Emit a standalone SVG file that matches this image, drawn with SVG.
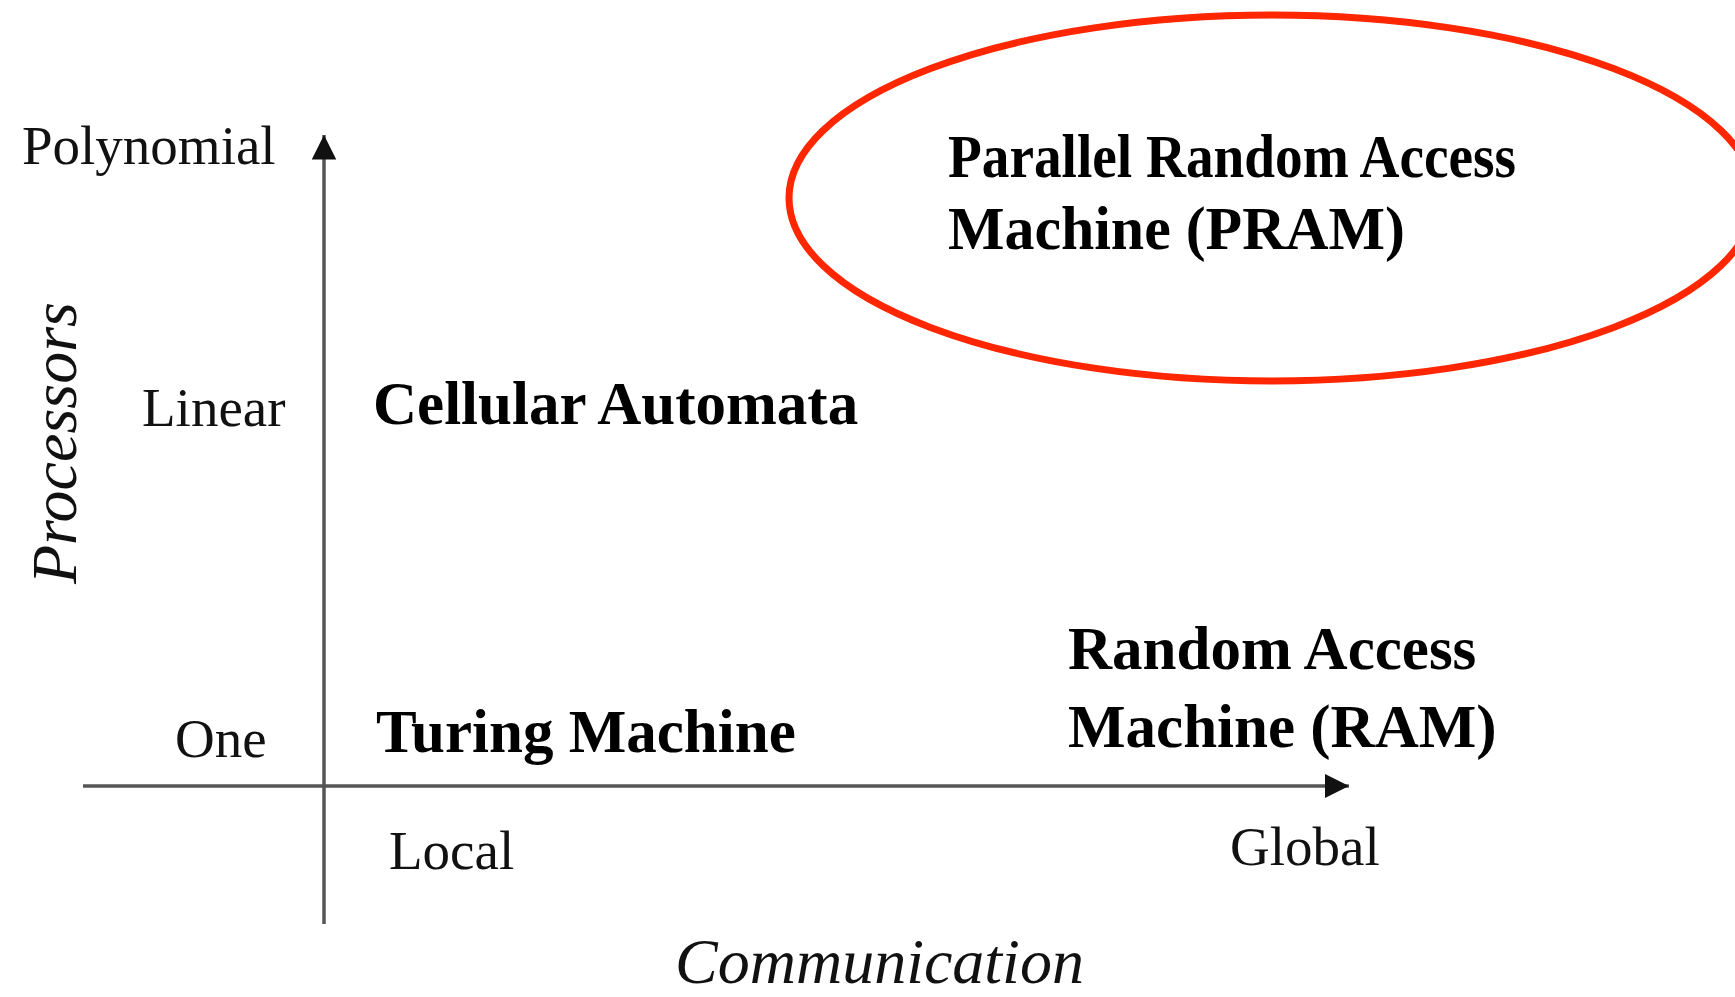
<svg xmlns="http://www.w3.org/2000/svg" width="1735" height="997" viewBox="0 0 1735 997">
  <style>
    .tick { font-family: "Liberation Serif", "Times New Roman", serif; font-size: 55px; fill: #111; }
    .axis-title { font-family: "Liberation Serif", "Times New Roman", serif; font-size: 64px; font-style: italic; fill: #111; }
    .model { font-family: "Liberation Serif", "Times New Roman", serif; font-size: 61px; font-weight: bold; fill: #000; }
    .axis { stroke: #555; stroke-width: 3.5; fill: none; }
  </style>
  <defs>
    <marker id="arrow" viewBox="0 0 10 10" refX="10" refY="5" markerWidth="7" markerHeight="7" markerUnits="strokeWidth" orient="auto">
      <path d="M0,0 L10,5 L0,10 z" fill="#111"/>
    </marker>
  </defs>

  <rect width="1735" height="997" fill="#fff"/>

  <!-- axes -->
  <g id="connectors">
    <line class="axis" x1="324" y1="924" x2="324" y2="135" marker-end="url(#arrow)"/>
    <line class="axis" x1="83" y1="786" x2="1349" y2="786" marker-end="url(#arrow)"/>
  </g>

  <!-- axis titles and tick labels -->
  <g id="labels">
    <text class="tick" x="22" y="164">Polynomial</text>
    <text class="tick" x="142" y="426">Linear</text>
    <text class="tick" x="175" y="757">One</text>
    <text class="tick" x="389" y="869">Local</text>
    <text class="tick" x="1230" y="865">Global</text>
    <text class="axis-title" transform="translate(76,443) rotate(-90)" text-anchor="middle">Processors</text>
    <text class="axis-title" x="675" y="983">Communication</text>
  </g>

  <g id="node-ca">
    <text class="model" x="373" y="424">Cellular Automata</text>
  </g>

  <g id="node-tm">
    <text class="model" x="376" y="752">Turing Machine</text>
  </g>

  <g id="node-ram">
    <text class="model" x="1068" y="669">Random Access</text>
    <text class="model" x="1068" y="747">Machine (RAM)</text>
  </g>

  <g id="node-pram">
    <ellipse cx="1272" cy="198" rx="483" ry="183" fill="none" stroke="#ff2600" stroke-width="7"/>
    <text class="model" x="948" y="177" textLength="568" lengthAdjust="spacingAndGlyphs">Parallel Random Access</text>
    <text class="model" x="948" y="249" textLength="457" lengthAdjust="spacingAndGlyphs">Machine (PRAM)</text>
  </g>
</svg>
